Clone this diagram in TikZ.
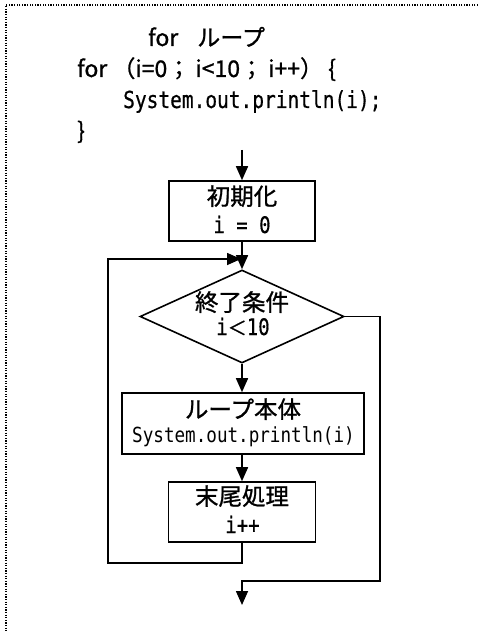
\documentclass[tikz,border=0pt]{standalone}
\usepackage{graphicx}
\usepackage{fontspec}
\setmainfont{Noto Sans CJK JP}
\newfontfamily\jp[FakeBold=1]{Noto Sans CJK JP}
\newfontfamily\mono[FakeBold=0.6]{DejaVu Sans Mono}
\newfontfamily\monothin{DejaVu Sans Mono}
\usetikzlibrary{shapes.geometric,arrows.meta}
\newcommand\jpbig{\jp\fontsize{23.5}{23.5}\selectfont}
\newcommand\jpcode{\jp\fontsize{23}{23}\selectfont}
\newcommand\tallmono[2]{\scalebox{1}[1.2]{\mono\fontsize{#1}{#1}\selectfont #2}}
\newcommand\tallthin[2]{\scalebox{1}[1.18]{\monothin\fontsize{#1}{#1}\selectfont #2}}
\begin{document}
\begin{tikzpicture}[x=1pt,y=-1pt,
  flow/.style={draw, line width=1.6pt, inner sep=0pt},
  arr/.style={line width=1.6pt, -{Triangle[length=14pt,width=12pt]}},
  txt/.style={inner sep=0pt, anchor=base west},
  ctr/.style={inner sep=0pt, anchor=base},
]
\useasboundingbox (0,0) rectangle (478,631);
\draw[line width=1.3pt, dash pattern=on 1.3pt off 1.3pt] (478,5) -- (6,5) -- (6,631);

% code text
\node[txt] (title) at (148,46) {\jpcode for\hspace{19pt}ループ};
\node[txt] (code1) at (77,77) {\jpcode for （i=0； i<10； i++） \{};
\node[txt] (code2) at (123,108) {\tallmono{19.5}{System.out.println(i);}};
\node[txt] (code3) at (77,139) {\jpcode \}};

% flowchart
\coordinate (start) at (242,150);
\node[flow, minimum width=146pt, minimum height=60pt] (init) at (242,211) {};
\node[flow, diamond, minimum width=204pt, minimum height=93pt] (cond) at (242,316.5) {};
\node[flow, minimum width=242pt, minimum height=61pt] (body) at (243,423.5) {};
\node[flow, minimum width=147pt, minimum height=60pt] (tail) at (242,512) {};

\node[ctr] (initA) at (242,205) {\jpbig 初期化};
\node[ctr] (initB) at (242,233) {\tallmono{19}{i = 0}};
\node[ctr] (condA) at (242,311) {\jpbig 終了条件};
\node[ctr] (condB) at (243,335) {\tallmono{19}{i}{\jp\fontsize{19}{19}\selectfont ＜}\tallmono{19}{10}};
\node[ctr] (bodyA) at (243,418) {\jpbig ループ本体};
\node[ctr] (bodyB) at (243.5,442) {\tallthin{17.6}{System.out.println(i)}};
\node[ctr] (tailA) at (242,505) {\jpbig 末尾処理};
\node[ctr] (tailB) at (242.5,533) {\tallmono{19}{i++}};

\coordinate (merge) at (241,259);
\coordinate (loopB) at (108,563);
\coordinate (loopT) at (108,259);
\coordinate (exitR) at (380,581);
\coordinate (exitC) at (242,581);
\coordinate (end) at (242,605);

\draw[arr] (start) -- (init.north);
\draw[arr] (init.south) -- (cond.north);
\draw[arr] (cond.south) -- (cond.south |- body.north);
\draw[arr] (tail.north |- body.south) -- (tail.north);
\draw[arr] (tail.south) |- (loopB) -- (loopT) -- (merge);
\draw[arr] (cond.east) -| (exitR) -- (exitC) -- (end);
\end{tikzpicture}
\end{document}
